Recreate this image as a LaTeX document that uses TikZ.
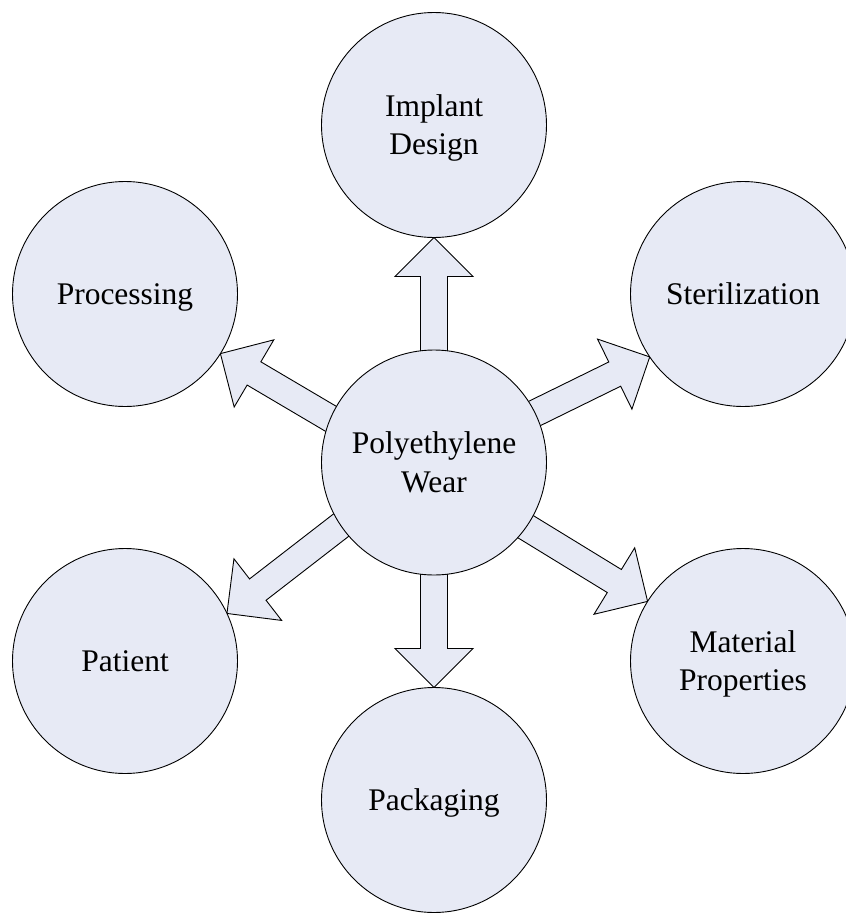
\documentclass[tikz,border=0pt]{standalone}
\usepackage{fontspec}
\setmainfont{Liberation Serif}
\usetikzlibrary{calc,backgrounds}

\definecolor{bubblefill}{RGB}{231,234,245}

\tikzset{
  bubble/.style={circle, draw=black, line width=0.9pt, fill=bubblefill,
    minimum size=225pt, inner sep=0pt, outer sep=0pt, align=center,
    font=\fontsize{31.5}{38.5}\selectfont, text height=20.9pt, text depth=0pt},
  tworows/.style={text height=59.4pt, text depth=0pt},
  blockarrow/.style={draw=black, line width=0.9pt, fill=bubblefill, line join=miter}
}

% Block arrow from the rim of node #1 (at angle #2) to the rim of node #3 (at angle #4)
\newcommand\blockarrowpath[4]{%
  \path ($(#1.#2)!-4pt!(#3.#4)$) coordinate (s) (#3.#4) coordinate (t);
  \path ($(t)!39pt!(s)$) coordinate (hb);
  \draw[blockarrow]
    ($(s)!13.5pt!90:(t)$) -- ($(hb)!13.5pt!90:(t)$) -- ($(hb)!39pt!90:(t)$)
    -- (t)
    -- ($(hb)!39pt!-90:(t)$) -- ($(hb)!13.5pt!-90:(t)$) -- ($(s)!13.5pt!-90:(t)$)
    -- cycle;
}

\begin{document}
\begin{tikzpicture}[x=1pt, y=-1pt]
  \useasboundingbox (0,0) rectangle (846,913);

  \node[bubble, tworows] (wear)    at (434,462.5) {Polyethylene\\Wear};
  \node[bubble, tworows] (design)  at (434,125)   {Implant\\Design};
  \node[bubble]          (proc)    at (125,294)   {Processing};
  \node[bubble]          (steril)  at (743,294)   {Sterilization};
  \node[bubble]          (patient) at (125,661)   {Patient};
  \node[bubble, tworows] (matprop) at (743,661)   {Material\\Properties};
  \node[bubble]          (pack)    at (434,800)   {Packaging};

  \begin{scope}[on background layer]
    \blockarrowpath{wear}{90}{design}{270}
    \blockarrowpath{wear}{270}{pack}{90}
    \blockarrowpath{wear}{157.1}{proc}{328.2}
    \blockarrowpath{wear}{26.4}{steril}{214.7}
    \blockarrowpath{wear}{214.1}{patient}{25.6}
    \blockarrowpath{wear}{325.8}{matprop}{148.4}
  \end{scope}
\end{tikzpicture}
\end{document}
